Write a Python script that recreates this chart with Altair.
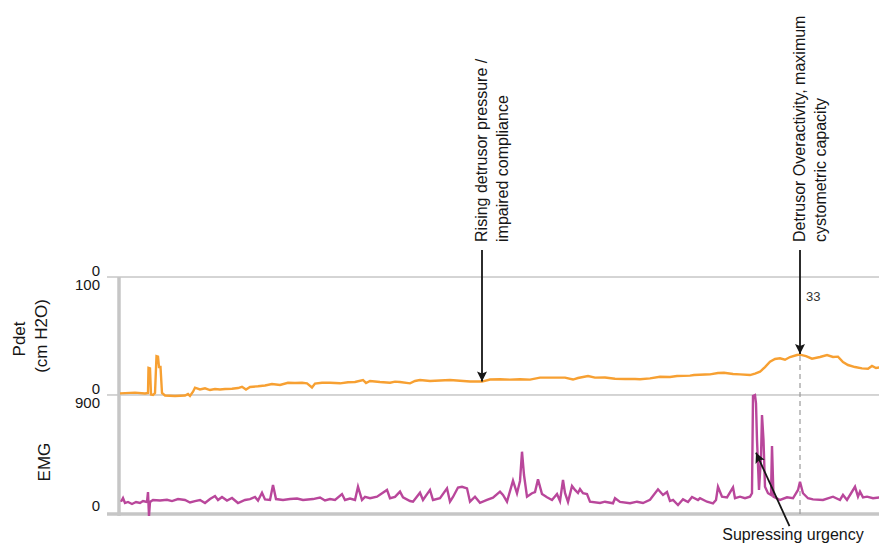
import altair as alt
import pandas as pd

# ---------------- data ----------------
PDET_T = [120, 135, 145, 148, 148.5, 150, 151, 153, 155, 156.5, 158, 159, 160.5, 162, 165, 175, 185, 188, 190, 193,
          195, 200, 205, 210, 215, 220, 225, 232, 238, 242, 246, 250, 258, 265, 272, 280, 288, 295, 302, 307,
          312, 315, 322, 330, 340, 348, 355, 363, 366, 370, 380, 390, 395, 400, 410, 415, 420, 430, 440, 450,
          460, 470, 482, 490, 500, 510, 520, 530, 540, 555, 565, 573, 578, 588, 595, 605, 615, 625, 635, 640,
          650, 660, 670, 677, 690, 694, 705, 710, 718, 724, 733, 740, 750, 755, 760, 765, 770, 775, 780, 785,
          790, 797, 800, 806, 812, 820, 827, 833, 838, 843, 848, 855, 862, 868, 872, 876, 880, 887]
PDET_V = [1.4, 2.0, 1.3, 1.7, 22.9, 22.5, 0.4, 0.0, 1.7, 33.0, 32.6, 23.7, 23.7, 1.7, -0.4, -0.8, -0.4, 0.8, -0.8, 2.8,
          6.2, 4.7, 5.7, 4.2, 5.1, 4.7, 5.1, 5.3, 5.9, 7.0, 4.7, 6.8, 7.4, 8.1, 9.3, 8.5, 10.4, 10.2, 10.4, 9.9,
          6.4, 9.7, 10.4, 10.4, 9.9, 10.8, 11.0, 12.7, 10.2, 11.9, 11.0, 10.4, 11.3, 11.0, 9.9, 11.9, 12.7, 11.9, 12.3, 12.7,
          12.1, 11.4, 11.4, 13.1, 13.3, 13.0, 13.3, 13.0, 14.7, 14.7, 14.7, 13.1, 14.4, 16.1, 14.7, 14.8, 13.8, 13.6, 13.6, 13.3,
          14.1, 15.5, 15.3, 16.1, 16.4, 16.9, 17.4, 17.5, 18.6, 18.9, 17.8, 17.5, 16.9, 18.2, 19.7, 23.7, 28.2, 30.5, 31.1, 29.9,
          32.2, 33.9, 34.2, 33.0, 30.8, 32.2, 33.9, 32.2, 32.5, 28.0, 25.4, 23.7, 22.6, 22.3, 24.6, 22.9, 23.5, 22.0]

EMG_T = [121, 123, 125, 128, 132, 136, 140, 143, 147, 148, 149, 150, 153, 160, 167, 172, 178, 185, 190, 195,
         200, 205, 210, 215, 218, 222, 227, 232, 238, 245, 250, 255, 258, 262, 265, 270, 273, 276, 283, 290,
         297, 303, 308, 313, 320, 325, 330, 335, 342, 345, 350, 355, 358, 362, 365, 370, 377, 387, 390, 395,
         400, 403, 410, 413, 420, 423, 430, 433, 440, 447, 450, 453, 458, 462, 467, 470, 475, 480, 487, 493,
         500, 503, 507, 513, 517, 520, 522, 524, 527, 532, 535, 538, 542, 547, 552, 557, 560, 563, 565, 568,
         572, 575, 578, 580, 583, 587, 590, 600, 605, 613, 615, 620, 630, 637, 643, 650, 658, 663, 667, 670,
         673, 678, 683, 688, 692, 698, 700, 707, 713, 716, 718, 722, 727, 733, 735, 740, 745, 750, 752, 753,
         755, 756, 757, 759, 761, 762, 763.5, 765, 768, 771, 772, 773.5, 780, 787, 793, 798, 800, 803, 808, 813,
         823, 833, 840, 843, 847, 855, 858, 860, 863, 867, 873, 880, 887]
EMG_V = [93, 121, 83, 91, 76, 91, 83, 98, 91, 166, -15, 91, 106, 102, 108, 98, 113, 106, 87, 98,
         106, 83, 113, 136, 106, 129, 102, 121, 83, 106, 113, 129, 102, 161, 110, 106, 219, 113, 106, 113,
         117, 106, 110, 113, 125, 102, 113, 106, 151, 106, 117, 106, 206, 106, 129, 119, 131, 182, 119, 129,
         169, 126, 98, 93, 161, 106, 182, 106, 119, 194, 93, 129, 200, 206, 194, 93, 131, 85, 106, 123,
         169, 144, 93, 252, 157, 250, 471, 295, 131, 157, 166, 262, 151, 126, 106, 151, 98, 257, 159, 91,
         212, 182, 159, 189, 157, 151, 93, 83, 93, 81, 119, 91, 81, 93, 83, 108, 187, 144, 166, 98,
         106, 68, 111, 91, 129, 106, 119, 93, 81, 106, 206, 131, 126, 202, 119, 131, 119, 131, 157, 892,
         900, 837, 560, 182, 433, 749, 560, 206, 157, 144, 514, 131, 106, 126, 119, 182, 244, 157, 119, 111,
         106, 131, 106, 144, 106, 206, 131, 169, 126, 131, 119, 126, 119]

ANNOT_T = [482, 800]
ANNOT_LINE1 = ["Rising detrusor pressure /", "Detrusor Overactivity, maximum"]
ANNOT_LINE2 = ["impaired compliance", "cystometric capacity"]
ANNOT_TIP = [11.4, 34.7]          # Pdet value where arrow points
PEAK_LABEL = "33"
URGENCY_TEXT = "Supressing urgency"
URGENCY_TIP_T, URGENCY_TIP_V = 756, 463.6
URGENCY_TAIL_T, URGENCY_TAIL_V = 789.5, -92

# ---------------- layout ----------------
W, H = 760, 506
X_DOMAIN = [119, 879]
PDET_DOMAIN = [-100.85, 327.97]
EMG_DOMAIN = [0, 3827]
FONT = "Liberation Sans"
ORANGE = "#F7A032"
PURPLE = "#B9479B"
GRID = "#aaaaaa"
BAR = "#c6c6c6"
INK = "#161616"
ARROW = "M0,0 L-0.5,-1 L0,-0.8 L0.5,-1 Z"

xs = alt.Scale(domain=X_DOMAIN, nice=False, zero=False)


def X(f):
    return alt.X(f, type="quantitative", scale=xs, axis=None)


def YP(f):
    return alt.Y(f, type="quantitative", scale=alt.Scale(domain=PDET_DOMAIN, nice=False, zero=False), axis=None)


def YE(f):
    return alt.Y(f, type="quantitative", scale=alt.Scale(domain=EMG_DOMAIN, nice=False, zero=False), axis=None)


pdet = pd.DataFrame({"t": PDET_T, "v": PDET_V})
emg = pd.DataFrame({"t": EMG_T, "v": EMG_V})
ann = pd.DataFrame({"t": ANNOT_T, "l1": ANNOT_LINE1, "l2": ANNOT_LINE2, "tip": ANNOT_TIP,
                    "top": [122.9, 122.9], "txt": [129.7, 129.7]})

layers = []
# thin gridlines at Pdet 100 and 0
layers.append(alt.Chart(pd.DataFrame({"v": [100, 0]})).mark_rule(color=GRID, strokeWidth=1).encode(
    x=alt.value(-12), x2=alt.value(W + 10), y=YP("v")))
# thick base line at EMG 0
layers.append(alt.Chart(pd.DataFrame({"v": [0]})).mark_rule(color=BAR, strokeWidth=3.5).encode(
    x=alt.value(-12), x2=alt.value(W + 10), y=YE("v")))
# thick left bar
layers.append(alt.Chart(pd.DataFrame({"a": [100], "b": [-102.5]})).mark_rule(color=BAR, strokeWidth=3.5).encode(
    x=alt.value(0), y=YP("a"), y2=alt.Y2("b")))
# dashed marker line at the capacity point
layers.append(alt.Chart(pd.DataFrame({"t": [800], "a": [33], "b": [-100.8]})).mark_rule(
    color="#9a9a9a", strokeWidth=1.2, strokeDash=[5, 4]).encode(x=X("t"), y=YP("a"), y2=alt.Y2("b")))
# traces
layers.append(alt.Chart(pdet).mark_line(color=ORANGE, strokeWidth=2.4).encode(x=X("t"), y=YP("v")))
layers.append(alt.Chart(emg).mark_line(color=PURPLE, strokeWidth=2.4).encode(x=X("t"), y=YE("v")))
# vertical arrows
layers.append(alt.Chart(ann).mark_rule(color=INK, strokeWidth=1.8).encode(
    x=X("t"), y=YP("top"), y2=alt.Y2("tip")))
layers.append(alt.Chart(ann).mark_point(shape=ARROW, size=400, filled=True, color=INK, opacity=1, strokeWidth=0).encode(
    x=X("t"), y=YP("tip")))
# annotation texts (rotated)
layers.append(alt.Chart(ann).mark_text(angle=270, align="left", baseline="middle", fontSize=16, font=FONT, color=INK).encode(
    x=X("t"), y=YP("txt"), text="l1:N"))
layers.append(alt.Chart(ann).mark_text(angle=270, align="left", baseline="middle", fontSize=16, font=FONT, color=INK, dy=21).encode(
    x=X("t"), y=YP("txt"), text="l2:N"))
# peak value label
layers.append(alt.Chart(pd.DataFrame({"t": [800], "v": [83], "s": [PEAK_LABEL]})).mark_text(
    align="left", baseline="middle", dx=6, fontSize=13, font=FONT, color="#333333").encode(
    x=X("t"), y=YP("v"), text="s:N"))
# urgency arrow
urg = pd.DataFrame({"t1": [URGENCY_TAIL_T], "t2": [URGENCY_TIP_T], "v1": [URGENCY_TAIL_V], "v2": [URGENCY_TIP_V]})
layers.append(alt.Chart(urg).mark_rule(color=INK, strokeWidth=1.8).encode(
    x=X("t1"), x2=alt.X2("t2"), y=YE("v1"), y2=alt.Y2("v2")))
layers.append(alt.Chart(urg).mark_point(shape=ARROW, size=400, filled=True, color=INK, opacity=1, strokeWidth=0, angle=155.7).encode(
    x=X("t2"), y=YE("v2")))
layers.append(alt.Chart(pd.DataFrame({"t": [793], "v": [-198], "s": [URGENCY_TEXT]})).mark_text(
    align="center", baseline="alphabetic", fontSize=16, font=FONT, color=INK).encode(
    x=X("t"), y=YE("v"), text="s:N"))
# axis labels
layers.append(alt.Chart(pd.DataFrame({"v": [100, 0], "s": ["0", "0"]})).mark_text(
    align="right", baseline="alphabetic", dy=-1, fontSize=15, font=FONT, color=INK).encode(
    x=alt.value(-19), y=YP("v"), text="s:N"))
layers.append(alt.Chart(pd.DataFrame({"v": [0], "s": ["0"]})).mark_text(
    align="right", baseline="alphabetic", dy=-3, fontSize=15, font=FONT, color=INK).encode(
    x=alt.value(-19), y=YE("v"), text="s:N"))
layers.append(alt.Chart(pd.DataFrame({"v": [100], "s": ["100"]})).mark_text(
    align="right", baseline="top", dy=1, fontSize=15, font=FONT, color=INK).encode(
    x=alt.value(-19), y=YP("v"), text="s:N"))
layers.append(alt.Chart(pd.DataFrame({"v": [900], "s": ["900"]})).mark_text(
    align="right", baseline="top", dy=1, fontSize=15, font=FONT, color=INK).encode(
    x=alt.value(-19), y=YE("v"), text="s:N"))
# channel titles
layers.append(alt.Chart(pd.DataFrame({"v": [47.5], "s": ["Pdet"]})).mark_text(
    angle=270, align="center", baseline="middle", fontSize=17, font=FONT, color=INK).encode(
    x=alt.value(-99.5), y=YP("v"), text="s:N"))
layers.append(alt.Chart(pd.DataFrame({"v": [50], "s": ["(cm H2O)"]})).mark_text(
    angle=270, align="center", baseline="middle", fontSize=17, font=FONT, color=INK).encode(
    x=alt.value(-77.5), y=YP("v"), text="s:N"))
layers.append(alt.Chart(pd.DataFrame({"v": [393], "s": ["EMG"]})).mark_text(
    angle=270, align="center", baseline="middle", fontSize=17, font=FONT, color=INK).encode(
    x=alt.value(-74.5), y=YE("v"), text="s:N"))

chart = alt.layer(*layers).resolve_scale(y="independent").properties(
    width=W, height=H,
    autosize=alt.AutoSizeParams(type="none"),
    padding={"left": 111, "top": 0, "right": 0, "bottom": 30},
    background="white",
).configure_view(stroke=None)

chart.save("out.html", embed_options={"renderer": "svg", "actions": False})
